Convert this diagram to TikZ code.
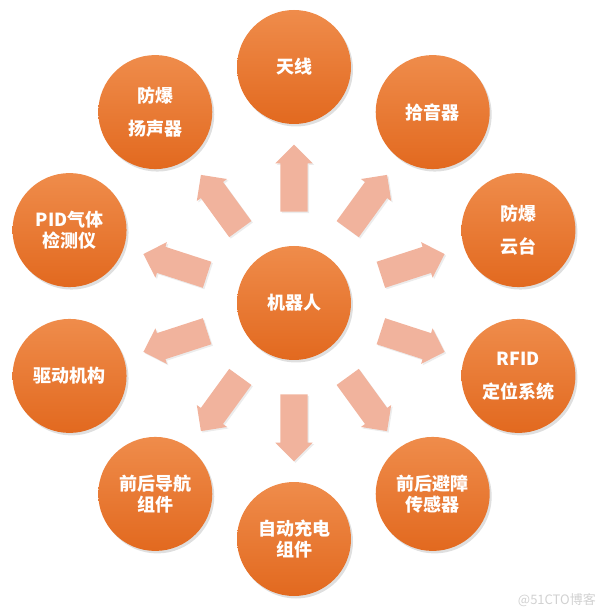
\documentclass[tikz,border=0pt]{standalone}
\usepackage{fontspec}
\setmainfont{Noto Sans CJK SC}
\usetikzlibrary{shapes.arrows,shadows}

\definecolor{ballhi}{HTML}{EF8C4B}
\definecolor{balllo}{HTML}{E2691F}
\definecolor{arrowpink}{HTML}{F1B39D}

\tikzset{
  part/.style={circle,minimum size=114pt,inner sep=0pt,align=center,
    top color=ballhi,bottom color=balllo,text=white,
    font=\fontsize{18}{21}\selectfont\bfseries,
    drop shadow={opacity=0.25,shadow xshift=2pt,shadow yshift=-2.5pt}},
  pointer/.style={single arrow,single arrow head extend=5pt,
    inner xsep=0pt,inner ysep=13.5pt,minimum height=67pt,
    fill=arrowpink,sloped,allow upside down,
    drop shadow={opacity=0.15,shadow xshift=1.5pt,shadow yshift=-1.5pt}}
}

\begin{document}
\begin{tikzpicture}[x=1pt,y=1pt]

        \useasboundingbox (-294,-306) rectangle (304,303);

        \node[part] (robot) at (0,0) {机器人};

        \begin{scope}[every node/.style={part}]
          \node (antenna)    at (90:236)  {天线};
          \node (pickup)     at (54:236)  {拾音器};
          \node (gimbal)     at (18:236)  {防爆\\[12pt]云台};
          \node (rfid)       at (-18:236) {RFID\\[12pt]定位系统};
          \node (obstacle)   at (-54:236) {前后避障\\传感器};
          \node (charger)    at (-90:236) {自动充电\\组件};
          \node (navigation) at (234:236) {前后导航\\组件};
          \node (drive)      at (198:236) {驱动机构};
          \node (gas)        at (162:236) {PID气体\\检测仪};
          \node (speaker)    at (126:236) {防爆\\[12pt]扬声器};
        \end{scope}

        \begin{scope}[every node/.style={pointer}]
          \path (robot) -- node (p1)  {} (antenna);
          \path (robot) -- node (p2)  {} (pickup);
          \path (robot) -- node (p3)  {} (gimbal);
          \path (robot) -- node (p4)  {} (rfid);
          \path (robot) -- node (p5)  {} (obstacle);
          \path (robot) -- node (p6)  {} (charger);
          \path (robot) -- node (p7)  {} (navigation);
          \path (robot) -- node (p8)  {} (drive);
          \path (robot) -- node (p9)  {} (gas);
          \path (robot) -- node (p10) {} (speaker);
        \end{scope}

        \node[anchor=south east,inner sep=1pt,text=black!18,font=\fontsize{13}{15}\selectfont] (mark) at (303,-305) {@51CTO博客};

      \end{tikzpicture}
\end{document}
